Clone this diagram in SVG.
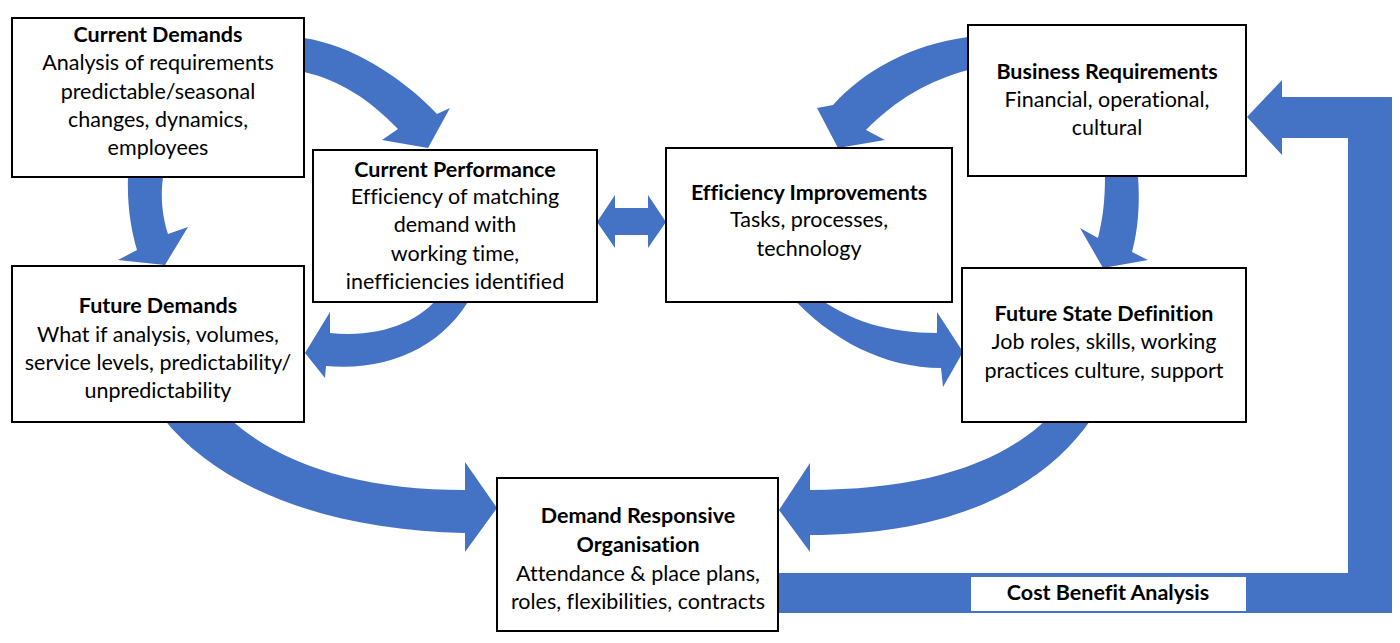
<svg xmlns="http://www.w3.org/2000/svg" width="1400" height="643" viewBox="0 0 1400 643">
<style>
.box{fill:#fff;stroke:#000;stroke-width:2}
.arr{fill:#4472C4}
text{font-family:Lato,"Open Sans","Liberation Sans",sans-serif;font-size:21.5px;fill:#000;text-anchor:middle;font-variant-ligatures:none}
.t{font-weight:bold}
</style>
<rect width="1400" height="643" fill="#fff"/>
<g id="connectors">
<path class="arr" d="M304,38 C350,45 400,75 437,114 L450,108 L428,148 L382,140 L398,129 C370,100 340,80 304,72 Z"/>
<path class="arr" d="M128,177 L163,177 C160,200 163,218 168,234 L188,227 L165,265 L118,260 L137,250 C131,230 127,205 128,177 Z"/>
<path class="arr" d="M440,295 C420,322 380,338 330,333 L330,312 L305,353 L325,378 L326,366 C390,372 445,345 472,295 Z"/>
<path class="arr" d="M597,222 L615,195 L615,208 L648,208 L648,195 L666,222 L648,248 L648,235 L615,235 L615,248 Z"/>
<path class="arr" d="M968,37 C910,45 865,70 833,105 L817,108 L838,148 L885,140 L866,130 C895,100 930,80 968,70 Z"/>
<path class="arr" d="M1105,176 L1138,176 C1140,205 1138,230 1132,252 L1148,260 L1103,268 L1080,228 L1098,238 C1103,218 1105,200 1105,176 Z"/>
<path class="arr" d="M815,295 C850,322 890,333 937,333 L937,312 L963,352 L943,387 L941,368 C885,368 830,340 790,295 Z"/>
<path class="arr" d="M229,418 C280,465 360,490 465,490 L465,462 L497,508 L465,552 L465,533 C330,530 220,490 163,418 Z"/>
<path class="arr" d="M1048,418 C1000,465 920,490 810,490 L810,463 L779,510 L810,552 L810,535 C940,535 1040,495 1092,418 Z"/>
<path class="arr" d="M770,573 L1348,573 L1348,138 L1282,138 L1282,155 L1247,117 L1282,80 L1282,97 L1392,97 L1392,613 L770,613 Z"/>
</g>
<g id="current-demands">
<rect class="box" x="12" y="18" width="292" height="159"/>
<text class="t" x="158" y="42">Current Demands</text>
<text x="158" y="70">Analysis of requirements</text>
<text x="158" y="99">predictable/seasonal</text>
<text x="158" y="127">changes, dynamics,</text>
<text x="158" y="155">employees</text>
</g>
<g id="current-performance">
<rect class="box" x="313" y="150" width="284" height="152"/>
<text class="t" x="455" y="177">Current Performance</text>
<text x="455" y="204">Efficiency of matching</text>
<text x="455" y="232">demand with</text>
<text x="455" y="261">working time,</text>
<text x="455" y="289">inefficiencies identified</text>
</g>
<g id="future-demands">
<rect class="box" x="12" y="266" width="292" height="156"/>
<text class="t" x="158" y="313">Future Demands</text>
<text x="158" y="342">What if analysis, volumes,</text>
<text x="158" y="370">service levels, predictability/</text>
<text x="158" y="398">unpredictability</text>
</g>
<g id="efficiency-improvements">
<rect class="box" x="666" y="148" width="286" height="154"/>
<text class="t" x="809" y="200">Efficiency Improvements</text>
<text x="809" y="227">Tasks, processes,</text>
<text x="809" y="256">technology</text>
</g>
<g id="business-requirements">
<rect class="box" x="968" y="25" width="278" height="151"/>
<text class="t" x="1107" y="79">Business Requirements</text>
<text x="1107" y="107">Financial, operational,</text>
<text x="1107" y="135">cultural</text>
</g>
<g id="future-state-definition">
<rect class="box" x="962" y="268" width="284" height="154"/>
<text class="t" x="1104" y="321">Future State Definition</text>
<text x="1104" y="349">Job roles, skills, working</text>
<text x="1104" y="378">practices culture, support</text>
</g>
<g id="demand-responsive-organisation">
<rect class="box" x="497" y="478" width="281" height="153"/>
<text class="t" x="638" y="523">Demand Responsive</text>
<text class="t" x="638" y="552">Organisation</text>
<text x="638" y="581">Attendance &amp; place plans,</text>
<text x="638" y="609">roles, flexibilities, contracts</text>
</g>
<g id="cost-benefit-analysis">
<rect x="971" y="577" width="275" height="34" fill="#fff"/>
<text class="t" x="1108" y="600">Cost Benefit Analysis</text>
</g>
</svg>
